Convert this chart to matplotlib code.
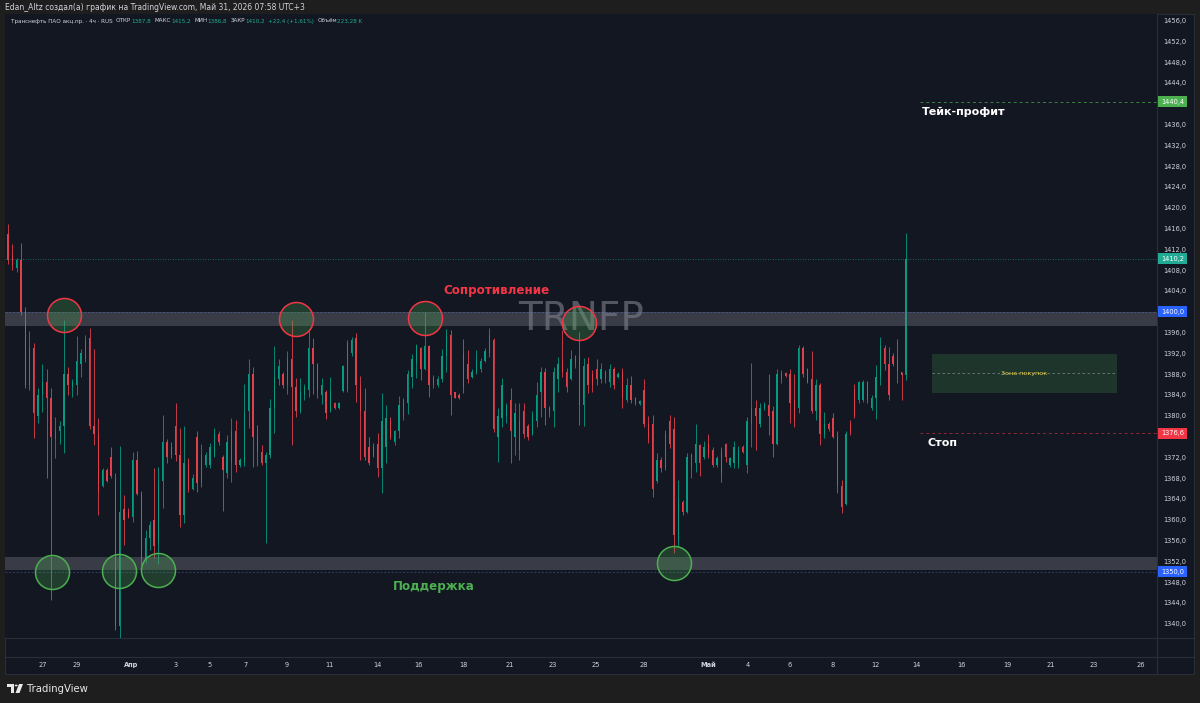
import numpy as np
import matplotlib
matplotlib.use('Agg')
import matplotlib.pyplot as plt
import matplotlib.transforms as mtransforms
from matplotlib.patches import Rectangle, Polygon, Circle
from matplotlib.lines import Line2D

# TRNFP, 4h candles (27 Mar - 13 May)
opens = [1415, 1411, 1408.5, 1410, 1400, 1386, 1393, 1380, 1384, 1386.5,
         1383.5, 1375.5, 1377, 1378, 1388, 1385.5, 1386, 1390, 1391, 1395,
         1378, 1376.5, 1366.5, 1369.5, 1372, 1368, 1339.5, 1362, 1361.5, 1360.5,
         1371.5, 1365, 1352.5, 1356.5, 1360, 1355.5, 1367.5, 1375, 1374, 1378,
         1372.5, 1361, 1371, 1366, 1376, 1367, 1370.5, 1370.5, 1372.5, 1376.5,
         1372, 1369, 1371, 1377, 1370.5, 1371, 1381, 1388, 1376, 1373,
         1371, 1372.5, 1381.5, 1387, 1388, 1386, 1391, 1385.5, 1381, 1384,
         1385, 1393, 1390, 1384, 1384.5, 1381, 1382.5, 1381.5, 1384.8, 1385,
         1392, 1395, 1386, 1381, 1374, 1374, 1374.5, 1370, 1374, 1379,
         1375, 1377, 1380, 1382.5, 1387.5, 1390, 1393, 1389, 1393.5, 1386,
         1386, 1387, 1391.5, 1395.5, 1384.5, 1384, 1392, 1390, 1387.5, 1388.5,
         1389, 1390.5, 1392, 1394.5, 1376, 1379.5, 1380, 1383, 1376, 1373.5,
         1381, 1378, 1376.5, 1379, 1384.5, 1388.5, 1380.5, 1381, 1387, 1390.5,
         1388.5, 1387, 1390, 1391.5, 1382, 1390, 1388, 1389, 1387, 1387,
         1386.5, 1389, 1387.5, 1388.5, 1383, 1386, 1383.5, 1382.3, 1385, 1378.5,
         1378.5, 1367.5, 1371.5, 1370, 1379, 1377.5, 1356, 1363.5, 1361.5, 1370,
         1371, 1374.3, 1372, 1374.5, 1373.5, 1370.5, 1373, 1374.5, 1370.5, 1371,
         1371, 1374, 1370.5, 1378.5, 1381.5, 1378.5, 1381.5, 1382, 1381, 1374.5,
         1387, 1388.3, 1388, 1383, 1381.5, 1393, 1389, 1387, 1381, 1386,
         1376.5, 1378.5, 1379.5, 1376, 1366.5, 1363, 1378.5, 1385, 1383, 1383,
         1386.5, 1381.5, 1383.5, 1387.5, 1393, 1390, 1391.5, 1391, 1388.4, 1387.8]
highs = [1416.9, 1413, 1410.4, 1413.2, 1401, 1396.2, 1394, 1385.3, 1390, 1389,
         1385.3, 1379.8, 1379, 1398.4, 1389.4, 1387, 1395.3, 1392.8, 1395.5, 1396.9,
         1392.8, 1379.5, 1370, 1370, 1374, 1369, 1374.2, 1364.7, 1362.2, 1373,
         1373.2, 1365.5, 1358, 1359.8, 1369.9, 1370.1, 1380.1, 1375.5, 1374.9, 1382.5,
         1377.6, 1378, 1371.9, 1368.7, 1377, 1374.6, 1373, 1374.7, 1377.6, 1377,
         1372.4, 1376.3, 1379.5, 1379.1, 1371.9, 1386.1, 1390.9, 1389.4, 1378.2, 1374.4,
         1373, 1383.2, 1393.4, 1390.9, 1388.4, 1392.4, 1398.4, 1387.3, 1387.3, 1386.1,
         1396.5, 1395, 1390.1, 1387.3, 1385, 1387.5, 1382.7, 1382.7, 1389.7, 1394.5,
         1395.1, 1396, 1387.6, 1385.3, 1375.9, 1374.7, 1376.7, 1384.3, 1382, 1379.7,
         1377.2, 1383.7, 1383.5, 1388.8, 1391.8, 1393.8, 1393.2, 1399.9, 1393.6, 1387.8,
         1387.6, 1392.8, 1396.6, 1396.5, 1384.6, 1384.4, 1394.7, 1392.6, 1389, 1392.6,
         1391.1, 1393, 1396.8, 1394.9, 1381.5, 1387.3, 1382.4, 1385.3, 1382.4, 1382.4,
         1382.4, 1378.4, 1380.9, 1386.5, 1389.4, 1389.2, 1381.8, 1389.4, 1391.3, 1396.5,
         1389.2, 1392.6, 1391.7, 1396.1, 1391.1, 1391.3, 1388.8, 1390.9, 1390.1, 1388.8,
         1389.9, 1389.4, 1388.4, 1389.2, 1387.3, 1387.6, 1383.6, 1383, 1387, 1380,
         1380.1, 1372.8, 1372.1, 1377.2, 1380.1, 1379.7, 1367.6, 1363.7, 1372.8, 1372.8,
         1378.4, 1374.6, 1375.1, 1376.5, 1374, 1372.2, 1374, 1374.8, 1372, 1375.1,
         1374.2, 1374.4, 1379.7, 1390.1, 1383, 1382.4, 1382.6, 1388, 1381.8, 1388.9,
         1388.8, 1388.4, 1388.9, 1388, 1393.6, 1393.4, 1389.2, 1392.4, 1387, 1386.3,
         1380.7, 1378.8, 1380.5, 1377, 1367.6, 1377, 1379.1, 1386.1, 1386.7, 1386.9,
         1386.7, 1384, 1389.7, 1395.1, 1393.6, 1393.2, 1392, 1394.7, 1388.5, 1415.2]
lows = [1409.2, 1408, 1407.6, 1399.4, 1385.3, 1385, 1375.7, 1378.6, 1380.7, 1368,
        1344.5, 1371.9, 1374.5, 1372.8, 1384, 1383.6, 1384, 1387.4, 1390.3, 1377.4,
        1374.4, 1361, 1366.3, 1367.2, 1368, 1338.8, 1337.3, 1355.1, 1360.3, 1359.6,
        1364.7, 1351.3, 1351.7, 1354.2, 1352.6, 1351.5, 1362.2, 1370.9, 1371.9, 1371.3,
        1358.6, 1359.4, 1365.3, 1365.7, 1365.3, 1366.3, 1370.1, 1369.9, 1372.1, 1374.4,
        1361.7, 1368, 1367.2, 1369.1, 1370.1, 1370.3, 1377.6, 1370.1, 1370.3, 1370.5,
        1355.5, 1371.9, 1376.7, 1385.9, 1385.3, 1384.2, 1374.4, 1379.8, 1380.5, 1383,
        1383.6, 1384.2, 1383.4, 1382.3, 1379.4, 1380.8, 1381.3, 1381.3, 1384.6, 1384.6,
        1391.5, 1382.6, 1371.5, 1371.5, 1370.5, 1372.1, 1368.2, 1365.1, 1370.9, 1375.5,
        1374.4, 1375.7, 1379.1, 1380.3, 1385.3, 1387.3, 1386.9, 1388.8, 1383.6, 1385.3,
        1385.5, 1386.5, 1388.4, 1380.1, 1383.4, 1383.2, 1384.4, 1386.3, 1387.3, 1388,
        1388.4, 1390.3, 1391.3, 1376.9, 1371.1, 1377.8, 1378.6, 1370.9, 1372.4, 1371.5,
        1375.7, 1375.3, 1376.3, 1377.8, 1379.8, 1378.2, 1379.8, 1377.8, 1384.6, 1387.5,
        1384.6, 1386.9, 1389.2, 1378.2, 1378, 1384.4, 1384.6, 1385.9, 1386.3, 1386.3,
        1385.5, 1385.1, 1387.3, 1381.5, 1382.6, 1382.4, 1382, 1382, 1377.8, 1374.7,
        1364.4, 1367, 1369.2, 1369.6, 1373.8, 1353.6, 1354.7, 1360.9, 1361.3, 1368,
        1369.2, 1368.4, 1371.7, 1371.9, 1370.1, 1370.1, 1367.3, 1371.1, 1370.1, 1369.9,
        1369.9, 1372.8, 1368.9, 1374, 1373.4, 1377.8, 1381.1, 1376.3, 1372, 1374.4,
        1386.3, 1387.5, 1378.6, 1377.8, 1380.5, 1387.5, 1386.3, 1380.5, 1379.1, 1374.4,
        1375.7, 1377, 1375.7, 1365.1, 1361.3, 1362.8, 1376.3, 1379.5, 1382.4, 1382.6,
        1382.4, 1381.1, 1379.3, 1385.9, 1388.8, 1383, 1389.5, 1386.3, 1383, 1386.8]
closes = [1410, 1409, 1410, 1400, 1386, 1393, 1380.5, 1384, 1386.5, 1383.5,
          1376, 1377, 1378, 1388, 1386, 1386.5, 1390.5, 1392, 1394.5, 1378,
          1376.5, 1365.5, 1369.5, 1367.5, 1368.5, 1339.5, 1361.5, 1360, 1360.5, 1371.5,
          1365, 1352.5, 1356.5, 1359, 1355, 1367.5, 1375, 1372, 1372.5, 1372.5,
          1361, 1371, 1366, 1368, 1367, 1372.5, 1372.5, 1374, 1376.5, 1375,
          1369.5, 1375, 1377, 1370.5, 1371.5, 1381, 1388, 1376, 1373, 1371,
          1372.5, 1381.5, 1387.5, 1389.5, 1386, 1391, 1385.5, 1381, 1384.5, 1385.5,
          1393, 1390, 1385, 1386, 1380.5, 1385, 1381.5, 1382.5, 1389.5, 1394,
          1394.5, 1386, 1381, 1372, 1371, 1372.5, 1370, 1379, 1379.5, 1376,
          1377, 1382, 1383, 1388, 1391, 1393.5, 1389, 1393.5, 1386, 1387.5,
          1387, 1391.5, 1395.5, 1384, 1383.5, 1383.5, 1385.5, 1387, 1388.5, 1391,
          1390.5, 1392.5, 1395.5, 1377.5, 1380, 1386, 1382, 1377, 1380.5, 1379,
          1376.5, 1376, 1380, 1384, 1388.5, 1381.5, 1381.5, 1388.5, 1390, 1388.5,
          1385.5, 1391, 1391.5, 1382, 1389.5, 1386, 1386, 1387, 1389, 1388.5,
          1389, 1386, 1388, 1383.5, 1386, 1383, 1382.5, 1382.8, 1378.5, 1375.5,
          1366, 1371.5, 1370, 1376.5, 1374.5, 1357, 1364, 1361.5, 1372, 1372.5,
          1374.5, 1371, 1374, 1372.5, 1370.5, 1371.8, 1369, 1372, 1371.8, 1374,
          1373.5, 1373, 1379, 1381.5, 1380, 1381.5, 1382.3, 1380, 1374.5, 1388,
          1388.3, 1387.7, 1382.5, 1379, 1393, 1388, 1386.5, 1381, 1386, 1376.5,
          1378.5, 1377.5, 1376, 1366.5, 1362.5, 1376.5, 1376.8, 1380, 1386.5, 1386.5,
          1383, 1383.5, 1387.5, 1393.5, 1390, 1384, 1390, 1388.5, 1387.8, 1410.2]

tick_pos = [8.15, 16.06, 28.6, 39.1, 47.0, 55.2, 64.9, 74.9, 85.9, 95.6, 105.9, 116.8, 126.8,
            136.8, 148.0, 162.9, 172.2, 182.0, 191.8, 201.8, 211.5, 221.8, 232.5, 242.7,
            252.7, 263.7]
tick_labels = ['27', '29', 'Апр', '3', '5', '7', '9', '11', '14', '16', '18', '21', '23',
               '25', '28', 'Май', '4', '6', '8', '12', '14', '16', '19', '21', '23', '26']
# price grid (1440, 1400 and 1376 are covered by the level labels)
price_ticks = [1340, 1344, 1348, 1352, 1356, 1360, 1364, 1368, 1372, 1380, 1384, 1388,
               1392, 1396, 1404, 1408, 1412, 1416, 1420, 1424, 1428, 1432, 1436, 1444,
               1448, 1452, 1456]

# touches of the levels (bar index, price)
res_touch_x = [13, 67, 97, 133]
res_touch_y = [1399.4, 1398.6, 1398.7, 1397.8]
sup_touch_x = [10.2, 25.9, 35.0, 155.0]
sup_touch_y = [1349.9, 1350.1, 1350.3, 1351.7]

RES_LEVEL, RES_BAND_LOW = 1400.0, 1397.3
SUP_LEVEL, SUP_BAND_HIGH = 1350.0, 1352.9
LAST_PRICE = 1410.2
TAKE_PROFIT = 1440.4
STOP = 1376.6
BUY_LOW, BUY_HIGH, BUY_MID = 1384.4, 1391.8, 1388.2

W, H = 1200, 703
BG = '#131722'
GREEN = '#089981'
RED = '#e0404c'
TXT = '#d1d4dc'
LINE = '#2a2e39'

plt.rcParams['font.family'] = ['DejaVu Sans']
fig = plt.figure(figsize=(W / 100, H / 100), dpi=100, facecolor='#1e1e1e')


def fx(x):
    return x / W


def fy(y):
    return 1 - y / H


# chart panel + separators
fig.patches.append(Rectangle((fx(5), fy(674)), 1189 / W, 660 / H, transform=fig.transFigure,
                             facecolor=BG, edgecolor=LINE, lw=0.8, zorder=-2))
fig.lines.append(Line2D([fx(1157), fx(1157)], [fy(14), fy(674)], transform=fig.transFigure,
                        color=LINE, lw=0.8, zorder=-1))
for yy in (638, 657):
    fig.lines.append(Line2D([fx(5), fx(1194)], [fy(yy), fy(yy)], transform=fig.transFigure,
                            color=LINE, lw=0.8, zorder=-1))

ax = fig.add_axes([fx(5), fy(638), 1152 / W, 624 / H])
ax.set_zorder(1)
ax.set_facecolor(BG)
for s in ax.spines.values():
    s.set_visible(False)
ax.set_xlim(-0.7, 267.4)
ax.set_ylim(1337.25, 1457.25)

# watermark
ax.text(0.5, 0.512, 'TRNFP', transform=ax.transAxes, ha='center', va='center', fontsize=28,
        color='#9598a1', alpha=0.5, zorder=1)

# candles
o = np.array(opens)
h = np.array(highs)
l = np.array(lows)
c = np.array(closes)
x = np.arange(len(o))
cols = np.where(c >= o, GREEN, RED)
ax.vlines(x, l, h, colors=cols, linewidth=0.6, zorder=2)
ax.bar(x, np.maximum(np.abs(c - o), 0.2), bottom=np.minimum(o, c), width=0.32,
       color=cols, linewidth=0, zorder=2)

# levels
ax.axhspan(RES_BAND_LOW, RES_LEVEL, color='#787b86', alpha=0.38, lw=0, zorder=3)
ax.axhspan(SUP_LEVEL + 0.3, SUP_BAND_HIGH, color='#787b86', alpha=0.38, lw=0, zorder=3)
ax.axhline(RES_LEVEL, color='#5b7bd6', lw=0.6, ls=(0, (2.5, 2)), alpha=0.45, zorder=3)
ax.axhline(SUP_LEVEL, color='#5b7bd6', lw=0.6, ls=(0, (2.5, 2)), alpha=0.45, zorder=3)
ax.axhline(LAST_PRICE, color='#22ab94', lw=0.6, ls=(0, (1, 2)), alpha=0.7, zorder=3)

ax.scatter(res_touch_x, res_touch_y, s=600, facecolor=(0.30, 0.69, 0.31, 0.25),
           edgecolor='#f23645', linewidth=1.1, zorder=5)
ax.scatter(sup_touch_x, sup_touch_y, s=600, facecolor=(0.30, 0.69, 0.31, 0.25),
           edgecolor='#4caf50', linewidth=1.1, zorder=5)

ax.text(113.6, 1404, 'Сопротивление', color='#f23645', fontsize=8.6, fontweight='bold',
        ha='center', va='center', zorder=6)
ax.text(99.1, 1347.1, 'Поддержка', color='#4caf50', fontsize=8.6, fontweight='bold',
        ha='center', va='center', zorder=6)

# trade plan
ax.hlines(TAKE_PROFIT, 212.2, 267.4, color='#4caf50', lw=0.7, ls=(0, (3, 3)), alpha=0.7, zorder=3)
ax.hlines(STOP, 212.2, 267.4, color='#f23645', lw=0.7, ls=(0, (3, 3)), alpha=0.55, zorder=3)
ax.text(212.7, 1438.4, 'Тейк-профит', color='white', fontsize=8, fontweight='bold',
        ha='left', va='center', zorder=6)
ax.text(213.9, 1374.75, 'Стоп', color='white', fontsize=8, fontweight='bold',
        ha='left', va='center', zorder=6)
ax.add_patch(Rectangle((214.96, BUY_LOW), 43.04, BUY_HIGH - BUY_LOW, facecolor='#4caf50',
                       alpha=0.2, edgecolor='none', zorder=3))
ax.hlines(BUY_MID, 214.96, 258.0, color='#787b86', lw=0.6, ls=(0, (3, 3)), zorder=4)
ax.text(236.5, BUY_MID, 'Зона покупок', color='#f2d84b', fontsize=4.6, ha='center',
        va='center', zorder=6)

# axes ticks
ax.yaxis.tick_right()
ax.set_yticks(price_ticks)
ax.set_yticklabels([f'{v:.1f}'.replace('.', ',') for v in price_ticks])
ax.tick_params(axis='y', length=0, pad=4.5, labelsize=4.8, labelcolor=TXT)
ax.set_xticks(tick_pos)
ax.set_xticklabels(tick_labels)
ax.tick_params(axis='x', length=0, pad=17, labelsize=4.8, labelcolor=TXT)
for t in ax.get_xticklabels():
    if t.get_text() in ('Апр', 'Май'):
        t.set_fontweight('bold')

# price labels on the axis
blend = mtransforms.blended_transform_factory(ax.transAxes, ax.transData)
for val, col in [(TAKE_PROFIT, '#4caf50'), (LAST_PRICE, '#22ab94'), (RES_LEVEL, '#2962ff'),
                 (STOP, '#f23645'), (SUP_LEVEL, '#2962ff')]:
    ax.text(1.0035, val, f'{val:.1f}'.replace('.', ','), transform=blend, ha='left', va='center',
            fontsize=4.8, color='white', clip_on=False, zorder=10,
            bbox=dict(boxstyle='square,pad=0.4', facecolor=col, edgecolor='none'))

# header
fig.text(fx(5), fy(7), 'Edan_Altz создал(а) график на TradingView.com, Май 31, 2026 07:58 UTC+3',
         fontsize=5.5, color=TXT, ha='left', va='center')

rend = fig.canvas.get_renderer()
pieces = [('Транснефть ПАО акц.пр. · 4ч · RUS', TXT, 3.5), ('ОТКР', TXT, 0.3),
          ('1387,8', '#22ab94', 3.5), ('МАКС', TXT, 0.3), ('1415,2', '#22ab94', 3.5),
          ('МИН', TXT, 0.3), ('1386,8', '#22ab94', 3.5), ('ЗАКР', TXT, 0.3),
          ('1410,2', '#22ab94', 2.5), ('+22,4 (+1,61%)', '#22ab94', 3.5), ('Объём', TXT, 0.3),
          ('223,28 K', '#22ab94', 0)]
xp = 10.7
for s, col, gap in pieces:
    t = fig.text(fx(xp), fy(21), s, fontsize=4.1, color=col, ha='left', va='center')
    xp += t.get_window_extent(renderer=rend).width + gap

# TradingView logo
fig.patches.append(Polygon([(fx(7), fy(684)), (fx(14), fy(684)), (fx(14), fy(693)), (fx(10.5), fy(693)),
                            (fx(10.5), fy(687)), (fx(7), fy(687))], closed=True,
                           transform=fig.transFigure, facecolor='#e8e8e8', edgecolor='none'))
fig.patches.append(Circle((fx(16.2), fy(685.5)), 1.5 / W, transform=fig.transFigure,
                          facecolor='#e8e8e8', edgecolor='none'))
fig.patches.append(Polygon([(fx(19), fy(684)), (fx(23), fy(684)), (fx(19.5), fy(693)), (fx(15.5), fy(693))],
                           closed=True, transform=fig.transFigure, facecolor='#e8e8e8', edgecolor='none'))
fig.text(fx(27), fy(688.5), 'TradingView', fontsize=7.3, color='#e8e8e8', ha='left', va='center')

fig.savefig('out.png', dpi=100, facecolor=fig.get_facecolor())
